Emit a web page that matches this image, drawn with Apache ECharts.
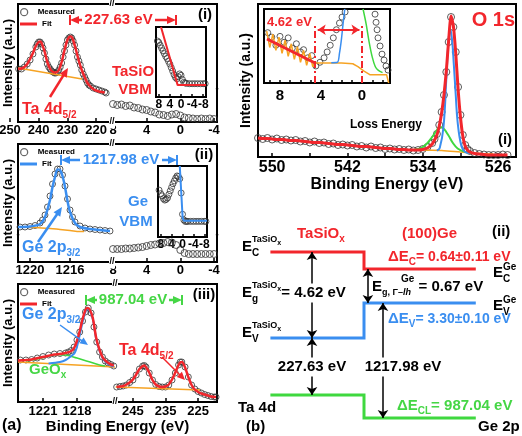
<!DOCTYPE html>
<html><head><meta charset="utf-8">
<script src="https://cdn.jsdelivr.net/npm/echarts@6/dist/echarts.min.js"></script>
<style>html,body{margin:0;padding:0;background:#fff}#c{width:522px;height:436px}</style>
</head><body><div id="c"></div>
<script>
// ================= DATA =================
// (a)(i) TaSiOx : Ta 4d core level
const ta1BE=[247,246,245,244,243,242,241,240.5,240,239.5,239,238.5,238,237.5,237,236.5,236,235.5,235,234.5,234,233.5,233,232.5,232,231.5,231,230.5,230,229.5,229,228.5,228,227.5,227,226.5,226,225.5,225,224.5,224,223.5,223,222.5,222,221,220,219,218,217,216.5];
const ta1Meas=[53,53,55,58,62,68,75,78,80,80,78,74,69,63,58,55,53,51,50,49,49,50,52,55,59,65,71,77,82,84,85,84,81,77,71,65,61,57,52,48,45,42,39,37,36,34,33,32,31,30,29];
const ta1FitBE=[247.2,246,245,244,243,242,241,240,239.5,239,238,237,236,235,234,233,232,231,230,229,228.5,228,227,226,225,224,223,222,221,220,219,218,217];
const ta1Fit=[53,53.5,55,58,63,69,76,80,80.5,79,71,60,53,50,49.5,52,60,72,82,85.5,85,82,72,61,52,45,39,35.5,33,31.5,30.5,30,29.5];
const ta1BgBE=[247.2,236,224.9];
const ta1Bg=[54,48.5,43];
// (a)(i) TaSiOx valence band
const vb1BE=[8,7.5,7,6.5,6,5.5,5,4.5,4,3.5,3,2.5,2,1.5,1,0.5,0,-0.5,-1,-1.5,-2,-2.5,-3,-3.5,-4];
const vb1Meas=[18,17,17.5,16,16.5,14.5,14,12.5,12,10.5,9.5,7.5,7,6,7.5,8,6.5,4.5,4,3.5,3,3.5,3,3.5,3];
const vb1InBE=[8.5,8,7.5,7,6.5,6,5.5,5,4.5,4,3.5,3,2.5,2,1.5,1,0.5,0,-0.5,-1,-1.5,-2,-3,-4,-5,-6,-7,-8,-8.7];
const vb1In=[80,78,74,70,66,62,58,55,51,47,42,37,32,28,26,29,33,31,25,21,20,19.5,19,19,19,19,19,19,19];
const vb1InFitBE=[7.2,1.2,-9];
const vb1InFit=[100,17,17];
// (a)(ii) Ge : Ge 2p3/2 core level
const ge2BE=[1221,1220.5,1220,1219.5,1219,1218.75,1218.5,1218.25,1218,1217.75,1217.5,1217.25,1217,1216.75,1216.5,1216.25,1216,1215.75,1215.5,1215,1214.5,1214,1213.5,1213,1212.5,1212];
const ge2Meas=[35,35,35.5,36.5,39,42,47,55,66,78,88,93,93,87,76,63,52,45,40,36,34,33,32.5,32,31.5,31];
const ge2FitBE=[1221.2,1220,1219,1218.5,1218,1217.75,1217.5,1217.25,1217,1216.75,1216.5,1216.25,1216,1215.5,1215,1214,1213,1212];
const ge2Fit=[35,35.5,38,45,62,75,85,92.5,92,86,75,61,50,39,35,33,32,31];
const ge2BgBE=[1221.2,1219.5,1218,1217,1216,1215,1214.6];
const ge2Bg=[35,34.5,33.5,32.5,31.5,30.5,30.5];
// (a)(ii) Ge valence band
const vb2BE=[8,7.5,7,6.5,6,5.5,5,4.5,4,3.5,3,2.5,2,1.5,1,0.5,0,-0.5,-1,-1.5,-2,-2.5,-3,-3.5,-4];
const vb2Meas=[13,13,13,13.5,13.5,14,14.5,15,16,17,17.5,18.5,19,20,19.5,17,12,9,8,8,8,8,8,8,8];
const vb2InBE=[8.6,8,7.5,7,6.5,6,5.5,5,4.5,4,3.5,3,2.5,2,1.5,1,0.5,0,-0.5,-1,-1.5,-2,-3,-4,-5,-6,-7,-8,-8.6];
const vb2In=[66,61,58,54,52,53,55,60,65,70,75,79,83,86,85,82,62,32,24,22,22,22,22,22,22,22,22,22,22];
const vb2InFitBE=[1.0,-0.05,-0.5,-9];
const vb2InFit=[100,27,23,23];
// (a)(iii) TaSiOx/Ge : Ge 2p3/2 region
const ge3BE=[1223,1222.5,1222,1221.5,1221,1220.5,1220,1219.5,1219,1218.75,1218.5,1218.25,1218,1217.75,1217.5,1217.25,1217,1216.75,1216.5,1216.25,1216,1215.75,1215.5,1215.25,1215,1214.75];
const ge3Meas=[42,42,42.5,44,45.5,47,48,48.5,49,50,51.5,55,62,70,81,90,94,89,75,60,50,45,41,39,37.5,36];
const ge3FitBE=[1223.2,1222.5,1222,1221,1220,1219.5,1219,1218.5,1218.25,1218,1217.75,1217.5,1217.25,1217.1,1216.9,1216.6,1216.3,1216,1215.7,1215.3,1215,1214.75];
const ge3Fit=[41.5,42,42.5,45,47.5,48,49,51,54,61,71,83,92,94,93,84,64,52,44,39.5,37.5,36.5];
const ge3GeBE=[1220.5,1219.5,1219,1218.5,1218.2,1218,1217.75,1217.5,1217.25,1217.1,1216.9,1216.6,1216.3,1216,1215.7,1215.3,1215,1214.75];
const ge3Ge=[38.5,40,42,46,49,55,67,80,90,93,92,83,63,51,43,38.5,36.5,35.5];
const ge3OxBE=[1222.5,1221.5,1220.5,1219.8,1219,1218,1217,1216,1215.5];
const ge3Ox=[41,43,46,47.5,47,44,40.5,37,36];
const ge3BgBE=[1223.2,1214.64];
const ge3Bg=[40,35];
// (a)(iii) TaSiOx/Ge : Ta 4d region
const ta3BE=[250,249,248,247,246,245,244,243,242,241.5,241,240,239,238,237,236,235,234,233,232,231,230.5,230,229,228,227,226,225,224,223,222,221,220,219.5];
const ta3Meas=[15,15.5,16,17,19.5,22,27,33,36,36.5,35,29,22,17.5,15.5,15,15,17,22,29,37,40,40,35,25,17,13,10.5,9,7.5,6.5,5.5,5,5];
const ta3Fit=[15,15.5,16,17.5,19.5,22.5,27.5,33,36,36.5,35,29.5,22,17.5,15.5,15,15.5,17.5,22.5,29.5,37,39.5,40,34.5,25,17,12.5,10,8.5,7.5,6.5,5.5,5,5];
const ta3BgBE=[250.3,224.4];
const ta3Bg=[15,12];
// (b)(i) O 1s
const o1BE=[551.5,551,550.5,550,549.5,549,548.5,548,547.5,547,546.5,546,545.5,545,544.5,544,543.5,543,542.5,542,541.5,541,540.5,540,539.5,539,538.5,538,537.5,537,536.5,536,535.5,535,534.5,534,533.5,533,532.75,532.5,532.25,532,531.75,531.5,531.25,531,530.75,530.5,530.25,530,529.75,529.5,529.25,529,528.5,528,527.5,527,526.5,526,525.5,525];
const o1Meas=[19,18,19,17.5,18.5,17,17.5,16.5,17,15.5,16,14.5,15.5,14,14.5,13,13.5,12,12.5,11.5,12,10.5,11,9.5,10.5,9,9.5,8,8.5,7.5,8,7,7.5,6.5,7,8,10,14,18,23,32,45,62,85,115,140,130,105,70,42,22,12,8,6,4,3,2.5,2,2,2,2.5,2];
const o1Fit=[19,18.5,18.5,18,17.5,17.5,17,16.5,16.5,16,15.5,15,14.5,14.5,14,13.5,13,12.5,12.5,12,11.5,11,10.5,10.5,10,9.5,9,8.5,8.5,8,7.5,7.5,7,7,7,7.5,9,13,17,22,31,44,62,86,117,141,131,104,68,40,21,11,7,5,3.5,3,2.5,2,2,2,2,2];
const o1LatBE=[532.5,532.2,531.8,531.5,531.3,531.1,530.9,530.7,530.5,530.3,529.9,529.5,529];
const o1Lat=[6.5,9,30,78,112,128,118,92,62,35,11,5,4];
const o1SubBE=[535,534.5,534,533.5,533,532.5,532.2,531.8,531.3,530.8,530.3,529.5,528.5];
const o1Sub=[7,8,10,14,20,27,30,28.5,22,14,8.5,5,4];
const o1BgBE=[535.6,534,532,530,528,526.5];
const o1Bg=[7,7,6.5,5,3.5,3];
// O 1s loss-energy inset
const oiBE=[9.2,8.8,8.4,8.0,7.6,7.2,6.8,6.4,6.0,5.7,5.3,4.9,4.5,4.1,3.7,3.4,3.1,2.8,2.5,2.2,1.95,1.65,1.4,-1.27,-1.37,-1.47,-1.56,-1.76,-1.95,-2.15,-2.34,-2.54];
const oiMeas=[68,62,51,63,55,61,47,53,42,45,34,37,23,28,34,42,51,61,72,81,89,96,101,93,82,72,61,50,39,31,23,17.5];
const oiFitBE=[9.27,4.58];
const oiFit=[59.5,27];
const oiBgBE=[9.3,9.0,8.7,8.4,8.1,7.8,7.5,7.2,6.9,6.6,6.3,6.0,5.7,5.4,5.1,4.8,4.6,3.5,2.0,0.9,0.4,-0.2,-0.8,-2.4,-2.6];
const oiBg=[70,48,66,44,62,40,58,36,53,32,49,28,44,24,40,22,27,27,27,26,22,16,11,11,0];
const oiLatBE=[3.0,2.4,2.2,2.0,1.85,1.68];
const oiLat=[27.5,28,40,60,80,100];
const oiSubBE=[-0.1,-0.4,-0.7,-1.0,-1.3,-1.6,-2.0];
const oiSub=[100,80,55,35,22,17,14];
const oiMarks=[4.62,0];
// (b)(ii) band alignment (schematic level heights; TaSiOx side, Ge side)
const bandX=[4,40,83];
const ecLv=[184,167];
const evLv=[98,133];
const clLv=[41,18];
// tick labels
const t1Ticks=[250,240,230,220];
const vbTicks=[8,4,0,-4];
const inTicks=[8,4,0,-4,-8];
const g2Ticks=[1220,1216];
const g3Ticks=[1221,1218];
const t3Ticks=[245,235,225];
const o1Ticks=[550,542,534,526];
const o1MinorTicks=[550,546,542,538,534,530,526];
const oiTicks=[8,4,0];
const oiMinorTicks=[9,8,7,6,5,4,3,2,1,0,-1,-2];

// ================= STYLE / HELPERS =================
const RED='#f2262c',BLUE='#3a8ef0',GREEN='#3fd83f',ORANGE='#f6a323',GTXT='#45d645';
const FF='"Liberation Sans", Arial, Helvetica, sans-serif';
const zip=(a,b)=>a.map((v,i)=>[v,b[i]]);
const grids=[],xAxes=[],yAxes=[],series=[],gfx=[];
function addGrid(g,xa,ya){grids.push(Object.assign({outerBoundsMode:'none',containLabel:false,show:false},g));const i=grids.length-1;xAxes.push(Object.assign({gridIndex:i},xa));yAxes.push(Object.assign({gridIndex:i},ya));return i;}
const hid=(min,max)=>({type:'value',min,max,show:false});
function xAx(min,max,ticks,fs,margin,minor,tlen){return {type:'value',min,max,inverse:true,axisLine:{show:false},splitLine:{show:false},
  axisTick:{show:true,inside:true,length:tlen||4,customValues:minor||ticks,lineStyle:{color:'#000',width:1.5}},
  axisLabel:{customValues:ticks,formatter:v=>String(v),fontSize:fs,fontWeight:'bold',color:'#000',fontFamily:FF,margin:margin}};}
function frameY(fs,gap,min,max){return {type:'value',min:min||0,max:max||1,axisLine:{show:false},axisTick:{show:false},axisLabel:{show:false},splitLine:{show:false},
  name:'Intensity (a.u.)',nameLocation:'middle',nameGap:gap,nameTextStyle:{fontSize:fs,fontWeight:'bold',color:'#000',fontFamily:FF}};}
const frameStyle={show:true,borderColor:'#000',borderWidth:2,backgroundColor:'transparent'};
function meas(gi,xs,ys,size){series.push({type:'scatter',name:'Measured',xAxisIndex:gi,yAxisIndex:gi,data:zip(xs,ys),symbol:'circle',symbolSize:size||6,
  itemStyle:{color:'rgba(255,255,255,0)',borderColor:'#333',borderWidth:1},z:2,silent:true});}
function curve(gi,xs,ys,color,w,name,smooth,z,extra){series.push(Object.assign({type:'line',name:name||'_',xAxisIndex:gi,yAxisIndex:gi,data:zip(xs,ys),symbol:'none',showSymbol:false,
  smooth:smooth===undefined?0.3:smooth,lineStyle:{color,width:w},itemStyle:{color},z:z||4,silent:true},extra||{}));}
const mctx=document.createElement('canvas').getContext('2d');
function tw(t,s,it){mctx.font=(it?'italic ':'')+'bold '+s+'px '+FF;return mctx.measureText(t).width;}
function T(parts,x,y,color,align,bg){
  const pos=[];let cur=0,maxS=0;
  parts.forEach(p=>{const w=tw(p.t,p.s,p.it);const sx=(p.ox!==undefined)?p.ox:(p.at!==undefined?pos[p.at]:cur);pos.push(sx);cur=Math.max(cur,sx+w);maxS=Math.max(maxS,p.s);});
  const x0=align==='center'?x-cur/2:(align==='right'?x-cur:x);
  if(bg){gfx.push({type:'rect',z:99,shape:{x:x0-bg,y:y-maxS/2-2,width:cur+2*bg,height:maxS+4},style:{fill:'#fff'}});}
  parts.forEach((p,i)=>{gfx.push({type:'text',z:100,x:x0+pos[i],y:y+(p.dy||0),style:{text:p.t,fill:p.c||color,font:(p.it?'italic ':'')+'bold '+p.s+'px '+FF,
    align:'left',verticalAlign:'middle',textAlign:'left',textVerticalAlign:'middle'}});});
}
function seg(x1,y1,x2,y2,c,w){gfx.push({type:'line',z:100,shape:{x1,y1,x2,y2},style:{stroke:c,lineWidth:w}});}
function head(x,y,ang,L,W,c){const bx=x-L*Math.cos(ang),by=y-L*Math.sin(ang),px=-Math.sin(ang)*W,py=Math.cos(ang)*W;
  gfx.push({type:'polygon',z:100,shape:{points:[[x,y],[bx+px,by+py],[bx-px,by-py]]},style:{fill:c}});}
function arrow(x1,y1,x2,y2,c,w,L){const a=Math.atan2(y2-y1,x2-x1);L=L||9;seg(x1,y1,x2-L*0.8*Math.cos(a),y2-L*0.8*Math.sin(a),c,w);head(x2,y2,a,L,L*0.45,c);}
function hArrow(x1,x2,y,c,t1,t2){seg(x1,y-5,x1,y+5,c,2);seg(x2,y-5,x2,y+5,c,2);head(x1,y,Math.PI,9,4,c);head(x2,y,0,9,4,c);seg(x1+6,y,t1,y,c,2.5);seg(t2,y,x2-6,y,c,2.5);}

// ================= PANEL (a)(i) =================
addGrid(Object.assign({left:18,top:4,width:199,height:118},frameStyle),hid(0,1),frameY(13,3));
const g1L=addGrid({left:10,top:4,width:102,height:118},xAx(214.46,250,t1Ticks,13,2),hid(0,118));
const g1R=addGrid({left:112,top:4,width:105,height:118},xAx(-4.36,8.12,vbTicks,13,2),hid(0,118));
const g1I=addGrid(Object.assign({left:156,top:27,width:50,height:70},frameStyle,{backgroundColor:'#fff'}),xAx(-9,9,inTicks,12,2,inTicks,3),hid(0,100));
meas(g1L,ta1BE,ta1Meas);
curve(g1L,ta1BgBE,ta1Bg,ORANGE,1.5,'_',0,3);
curve(g1L,ta1FitBE,ta1Fit,RED,2.5,'Fit');
meas(g1R,vb1BE,vb1Meas,7);
meas(g1I,vb1InBE,vb1In,6);
curve(g1I,vb1InFitBE,vb1InFit,RED,2,'Fit',0);

// ================= PANEL (a)(ii) =================
addGrid(Object.assign({left:18,top:144,width:199,height:118},frameStyle),hid(0,1),frameY(13,3));
const g2L=addGrid({left:18,top:144,width:94,height:118},xAx(1211.8,1221.2,g2Ticks,13,2),hid(0,118));
const g2R=addGrid({left:112,top:144,width:105,height:118},xAx(-4.36,8.12,vbTicks,13,2),hid(0,118));
const g2I=addGrid(Object.assign({left:158,top:166,width:49,height:71},frameStyle,{backgroundColor:'#fff'}),xAx(-9,9,inTicks,12,2,inTicks,3),hid(0,100));
meas(g2L,ge2BE,ge2Meas);
curve(g2L,ge2BgBE,ge2Bg,ORANGE,1.5,'_',0.4,3);
curve(g2L,ge2FitBE,ge2Fit,BLUE,2.5,'Fit ');
meas(g2R,vb2BE,vb2Meas,7);
meas(g2I,vb2InBE,vb2In,6);
curve(g2I,vb2InFitBE,vb2InFit,BLUE,2,'Fit ',0);

// ================= PANEL (a)(iii) =================
addGrid(Object.assign({left:18,top:284,width:199,height:118},frameStyle),
  {type:'value',min:0,max:1,axisLine:{show:false},axisTick:{show:false},axisLabel:{show:false},splitLine:{show:false},
   name:'Binding Energy (eV)',nameLocation:'middle',nameGap:17,nameTextStyle:{fontSize:15,fontWeight:'bold',color:'#000',fontFamily:FF}},frameY(13,3));
const g3L=addGrid({left:18,top:284,width:97,height:118},xAx(1214.64,1223.2,g3Ticks,13,3),hid(0,118));
const g3R=addGrid({left:115,top:284,width:102,height:118},xAx(219.2,250.5,t3Ticks,13,3),hid(0,118));
meas(g3L,ge3BE,ge3Meas);
curve(g3L,ge3BgBE,ge3Bg,ORANGE,1.5,'_',0,3);
curve(g3L,ge3OxBE,ge3Ox,GREEN,1.5,'_',0.4,3);
curve(g3L,ge3GeBE,ge3Ge,BLUE,2,'_',0.3,3);
curve(g3L,ge3FitBE,ge3Fit,RED,2.5,'Fit');
meas(g3R,ta3BE,ta3Meas);
curve(g3R,ta3BgBE,ta3Bg,ORANGE,1.5,'_',0,3);
curve(g3R,ta3BE,ta3Fit,RED,2.5,'Fit');

// ================= PANEL (b)(i) O 1s =================
const gO=addGrid(Object.assign({left:258,top:4,width:258,height:153},frameStyle),
  Object.assign(xAx(524.1,551.5,o1Ticks,16,3,o1MinorTicks,4),{name:'Binding Energy (eV)',nameLocation:'middle',nameGap:20,nameTextStyle:{fontSize:16,fontWeight:'bold',color:'#000',fontFamily:FF}}),
  frameY(14,5,0,153));
const gOi=addGrid(Object.assign({left:264,top:9,width:126,height:74},frameStyle,{backgroundColor:'#fff'}),xAx(-2.73,9.56,oiTicks,15,5,oiMinorTicks,3),hid(0,100));
meas(gO,o1BE,o1Meas,7);
curve(gO,o1BgBE,o1Bg,ORANGE,1.5,'_',0.3,3);
curve(gO,o1SubBE,o1Sub,GREEN,2,'_',0.4,3);
curve(gO,o1LatBE,o1Lat,BLUE,2,'_',0.4,3);
curve(gO,o1BE,o1Fit,RED,3,'Fit',0.2,5);
curve(gOi,oiBgBE,oiBg,ORANGE,1.5,'_',0,3,{markLine:{silent:true,symbol:['arrow','arrow'],symbolSize:8,label:{show:false},lineStyle:{color:RED,width:2,type:'solid'},
  data:[[{coord:[oiMarks[0]-0.3,72]},{coord:[oiMarks[1]+0.25,72]}]]}});
meas(gOi,oiBE,oiMeas,6);
curve(gOi,oiLatBE,oiLat,BLUE,1.5,'_',0.3,3);
curve(gOi,oiSubBE,oiSub,GREEN,1.5,'_',0.3,3);
curve(gOi,oiFitBE,oiFit,RED,3,'Fit',0,5,{markLine:{silent:true,symbol:'none',label:{show:false},lineStyle:{color:RED,width:2,type:[7,3,2,3]},
  data:oiMarks.map(v=>[{coord:[v,0]},{coord:[v,78]}])}});

// ================= PANEL (b)(ii) band diagram =================
const gB=addGrid({left:260,top:230,width:260,height:206},hid(0,100),hid(0,206));
function band(lv,color,extra){series.push(Object.assign({type:'line',name:'_',xAxisIndex:gB,yAxisIndex:gB,
  data:[[bandX[0],lv[0]],[bandX[1],lv[0]],[bandX[1],lv[1]],[bandX[2],lv[1]]],symbol:'none',showSymbol:false,lineStyle:{color,width:3,join:'miter'},z:3,silent:true},extra||{}));}
band(ecLv,RED);
band(evLv,BLUE);
band(clLv,GREEN,{markLine:{silent:true,symbol:['arrow','arrow'],symbolSize:8,label:{show:false},lineStyle:{color:'#000',width:1.5,type:'solid'},
  data:[[{coord:[20,ecLv[0]]},{coord:[20,evLv[0]]}],[{coord:[20,evLv[0]]},{coord:[20,clLv[0]]}],
        [{coord:[41.5,ecLv[1]]},{coord:[41.5,evLv[1]]}],[{coord:[47.3,evLv[1]]},{coord:[47.3,clLv[1]]}]]}});

// ================= ANNOTATIONS =================
// (a)(i)
T([{t:'227.63 eV',s:15}],118.5,20,RED,'center'); hArrow(70,176,20,RED,82,155);
T([{t:'TaSiO',s:15}],133,72,RED,'center'); T([{t:'VBM',s:15}],135,90,RED,'center');
T([{t:'(i)',s:15}],205,15,'#000','center');
T([{t:'Ta 4d',s:16},{t:'5/2',s:10,dy:5}],22,110,RED); arrow(50,97,68,68,RED,2.5,9);
// (a)(ii)
T([{t:'1217.98 eV',s:15}],121,160,BLUE,'center'); hArrow(61,177,160,BLUE,80,162);
T([{t:'Ge',s:15}],138,202,BLUE,'center'); T([{t:'VBM',s:15}],136,222,BLUE,'center');
T([{t:'(ii)',s:15}],204,155,'#000','center');
T([{t:'Ge 2p',s:16},{t:'3/2',s:10,dy:5}],22,248,BLUE); arrow(38,242,62,207,BLUE,2.5,9);
// (a)(iii)
T([{t:'987.04 eV',s:15}],133,300,GTXT,'center'); hArrow(86,182,300,GTXT,97,169);
T([{t:'(iii)',s:15}],204,295,'#000','center');
T([{t:'Ge 2p',s:16},{t:'3/2',s:10,dy:5}],22,315,BLUE); arrow(60,325,88,345,BLUE,1.5,8);
T([{t:'GeO',s:15},{t:'x',s:10,dy:5}],29,370,GTXT);
T([{t:'Ta 4d',s:16},{t:'5/2',s:10,dy:5}],119,351,RED); arrow(162,357,185,380,RED,1.5,8);
T([{t:'(a)',s:16}],2,426,'#000');
// axis breaks
[[112,4],[112,122],[112,144],[112,262],[115,284],[115,402]].forEach(p=>T([{t:'//',s:9}],p[0],p[1],'#000','center',0.5));
[[18,90],[217,90],[18,236],[217,236]].forEach(p=>T([{t:'•',s:9}],p[0],p[1],'#000','center'));
// (b)(i)
T([{t:'O 1s',s:20}],515,20,RED,'right');
T([{t:'Loss Energy',s:12}],386,125,'#000','center');
T([{t:'(i)',s:15}],505,140,'#000','center');
T([{t:'4.62 eV',s:13}],267,22,RED);
// (b)(ii)
T([{t:'TaSiO',s:15},{t:'x',s:10,dy:5}],297,234,RED);
T([{t:'(100)Ge',s:15}],402,234,RED);
T([{t:'(ii)',s:15}],492,232,'#000');
T([{t:'E',s:15},{t:'TaSiO',s:9,dy:-7},{t:'x',s:7,dy:-4},{t:'C',s:10,dy:6,at:1}],242,247,'#000');
T([{t:'E',s:15},{t:'TaSiO',s:9,dy:-7},{t:'x',s:7,dy:-4},{t:'g',s:10,dy:6,at:1},{t:'= 4.62 eV',s:15}],242,293,'#000','left',1);
T([{t:'E',s:15},{t:'TaSiO',s:9,dy:-7},{t:'x',s:7,dy:-4},{t:'V',s:10,dy:6,at:1}],242,333,'#000');
T([{t:'227.63 eV',s:15}],312,367,'#000','center',2);
T([{t:'Ta 4d',s:15}],238,408,'#000');
T([{t:'(b)',s:15}],246,427,'#000');
T([{t:'1217.98 eV',s:15}],403,367,'#000','center',2);
T([{t:'E',s:15},{t:'g, Γ–',s:9,dy:6},{t:'lh',s:9,dy:6,it:true},{t:'Ge',s:10,dy:-8,ox:29},{t:' = 0.67 eV',s:15}],372,287,'#000');
T([{t:'ΔE',s:15},{t:'C',s:10,dy:5},{t:'= 0.64±0.11 eV',s:14}],388,257,RED);
T([{t:'E',s:15},{t:'Ge',s:10,dy:-6},{t:'C',s:10,dy:6,at:1}],493,273,'#000');
T([{t:'E',s:15},{t:'Ge',s:10,dy:-6},{t:'V',s:10,dy:6,at:1}],493,306,'#000');
T([{t:'ΔE',s:15},{t:'V',s:10,dy:5},{t:'= 3.30±0.10 eV',s:14}],388,319,BLUE);
T([{t:'ΔE',s:15},{t:'CL',s:10,dy:5},{t:'= 987.04 eV',s:15}],397,406,GTXT);
T([{t:'Ge 2p',s:15}],478,427,'#000');

// ================= LEGENDS =================
const lgText={fontSize:8,fontWeight:'bold',color:'#000',fontFamily:FF};
function lgM(top){return {left:20,top,itemWidth:17,itemHeight:7,padding:0,selectedMode:false,textStyle:lgText,
  data:[{name:'Measured',icon:'circle',itemStyle:{color:'#fff',borderColor:'#444',borderWidth:1.3}}]};}
function lgF(top,name,color){return {left:20,top,itemWidth:17,itemHeight:3,padding:0,selectedMode:false,textStyle:lgText,
  data:[{name,icon:'rect',itemStyle:{color}}]};}

const chart=echarts.init(document.getElementById('c'),null,{renderer:'canvas'});
chart.setOption({animation:false,backgroundColor:'#fff',textStyle:{fontFamily:FF},
  grid:grids,xAxis:xAxes,yAxis:yAxes,series:series,graphic:{z:90,elements:gfx},
  legend:[lgM(8),lgF(20,'Fit',RED),lgM(148),lgF(160,'Fit ',BLUE),lgM(288),lgF(300,'Fit',RED)]});
</script></body></html>
